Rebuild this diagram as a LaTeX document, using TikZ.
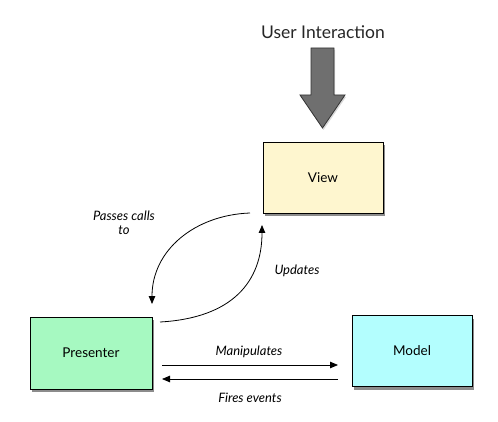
\documentclass[tikz,border=0pt]{standalone}
\usepackage{fontspec}
\setmainfont{Lato}
\usetikzlibrary{arrows.meta,shadows}
\definecolor{viewfill}{HTML}{FEF6CF}
\definecolor{presfill}{HTML}{A6F9C1}
\definecolor{modelfill}{HTML}{B3FEFE}
\definecolor{bigarrow}{HTML}{6F6F6F}
\tikzset{
  box/.style={draw=black, line width=0.9pt, minimum width=120pt, minimum height=71pt,
    font=\fontsize{13.5}{16}\selectfont,
    drop shadow={shadow xshift=1.5pt, shadow yshift=-3pt, opacity=0.45, fill=black}},
  conn/.style={line width=0.8pt, -{Triangle[length=8pt,width=6.5pt]}},
  lbl/.style={font=\itshape\fontsize{13}{14}\selectfont, align=center},
}
\begin{document}
\begin{tikzpicture}[x=1pt,y=-1pt]
\useasboundingbox (0,0) rectangle (498,422);
\node[font=\fontsize{17.5}{20}\selectfont, text=black!85] (ui) at (323,32) {User Interaction};
\draw[fill=bigarrow, draw=black!80, line width=0.8pt,
  drop shadow={shadow xshift=1pt, shadow yshift=-2pt, opacity=0.3}]
  (311,48) -- (334,48) -- (334,95) -- (345,95) -- (322.5,128) -- (300,95) -- (311,95) -- cycle;
\node[box, fill=viewfill] (view) at (323,178) {View};
\node[box, fill=presfill, minimum width=122pt, minimum height=72pt] (pres) at (91,353) {Presenter};
\node[box, fill=modelfill] (model) at (412,351) {Model};
\coordinate (p1) at (250,213);
\coordinate (p2) at (152,304);
\coordinate (u1) at (160,322);
\coordinate (u2) at (262,225);
\draw[conn] (p1) .. controls (195,215) and (152,250) .. (p2);
\draw[conn] (u1) .. controls (232,318) and (262,282) .. (u2);
\node[lbl] (lpass) at (124,223) {Passes calls\\to};
\node[lbl] (lupd) at (297,271) {Updates};
\coordinate (m1) at (162,365);
\coordinate (m2) at (338,365);
\coordinate (f1) at (338,379);
\coordinate (f2) at (162,379);
\draw[conn] (m1) -- (m2);
\draw[conn] (f1) -- (f2);
\node[lbl] (lman) at (249,352) {Manipulates};
\node[lbl] (lfire) at (250,398) {Fires events};
\end{tikzpicture}
\end{document}
